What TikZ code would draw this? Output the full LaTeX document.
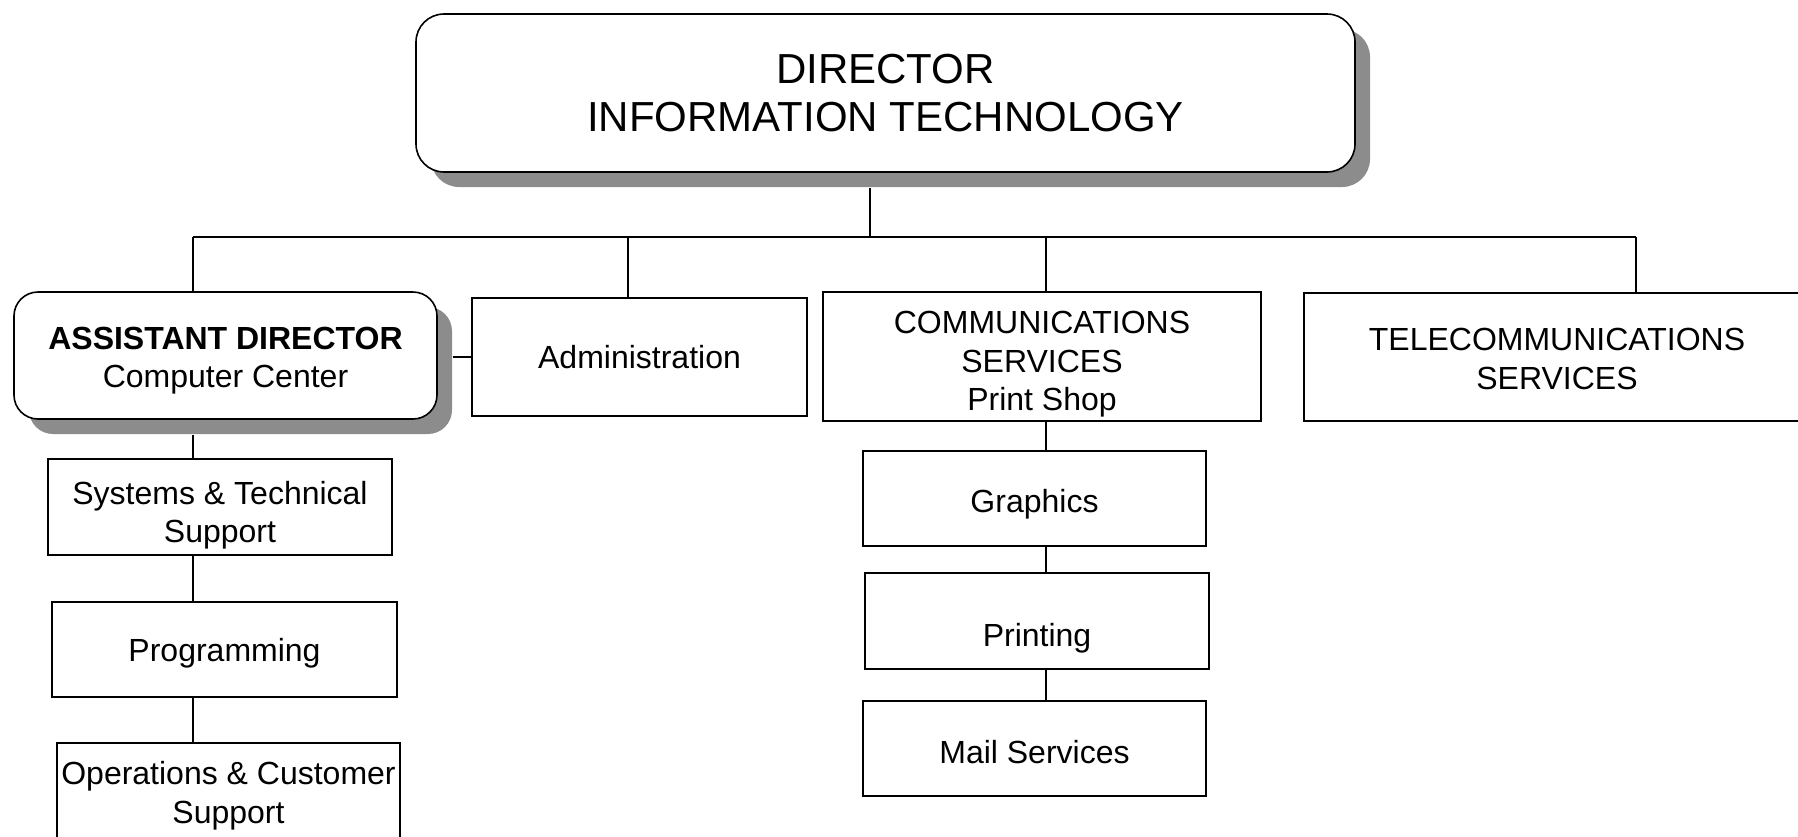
\documentclass[tikz,border=0pt]{standalone}
\usepackage{fontspec}
\setmainfont{Liberation Sans}
\usetikzlibrary{shadows}

\newcommand{\cale}[1]{\rule{0pt}{#1}}

\begin{document}
\begin{tikzpicture}[x=0.5pt, y=-0.5pt,
  boite/.style={draw, fill=white, line width=0.8pt, align=center, inner sep=0pt,
    font=\fontsize{16}{19.2}\selectfont},
  ombre/.style={boite, drop shadow={shadow xshift=7.5pt, shadow yshift=-7.5pt,
    fill=black!45, opacity=1}},
  trait/.style={line width=0.8pt}]

% Cadre
\clip (0,0) rectangle (1798,836);

% Le directeur
\node[ombre, rounded corners=14pt, minimum width=469.5pt, minimum height=79pt,
  font=\fontsize{21}{24}\selectfont] (dir) at (885.5,93) {DIRECTOR\\INFORMATION TECHNOLOGY};

% Premier niveau
\node[ombre, rounded corners=12pt, minimum width=211.5pt, minimum height=63.5pt] (asst) at (225.5,355.5)
  {\cale{16.1pt}\textbf{ASSISTANT DIRECTOR}\\Computer Center};
\node[boite, minimum width=167.5pt, minimum height=59pt] (admin) at (639.5,357) {Administration};
\node[boite, minimum width=219pt, minimum height=64.5pt] (comm) at (1042,356.5)
  {\cale{18.9pt}COMMUNICATIONS\\SERVICES\\Print Shop};
\node[boite, minimum width=253pt, minimum height=64pt] (tele) at (1557,357) {\cale{13.3pt}TELECOMMUNICATIONS\\SERVICES};

% Centre de calcul
\node[boite, minimum width=172pt, minimum height=48pt] (sys) at (220,507) {\cale{19.7pt}Systems \& Technical\\Support};
\node[boite, minimum width=172.5pt, minimum height=47.5pt] (prog) at (224.5,649.5) {\cale{15.1pt}Programming};
\node[boite, minimum width=171.5pt, minimum height=48pt] (ops) at (228.5,791) {\cale{16.3pt}Operations \& Customer\\Support};

% Imprimerie
\node[boite, minimum width=171.5pt, minimum height=47.5pt] (graph) at (1034.5,498.5) {\cale{17.5pt}Graphics};
\node[boite, minimum width=172pt, minimum height=48pt] (print) at (1037,621) {\cale{29pt}Printing};
\node[boite, minimum width=171.5pt, minimum height=47.5pt] (mail) at (1034.5,748.5) {\cale{15.1pt}Mail Services};

% Les liaisons
\coordinate (bus) at (870,237);
\coordinate (b1) at (193,237);
\coordinate (b2) at (628,237);
\coordinate (b3) at (1046,237);
\coordinate (b4) at (1636,237);
\draw[trait] ([yshift=-7.5pt]dir.south -| bus) -- (bus);
\draw[trait] (b1) -- (b4);
\draw[trait] (b1) -- (b1 |- asst.north);
\draw[trait] (b2) -- (b2 |- admin.north);
\draw[trait] (b3) -- (b3 |- comm.north);
\draw[trait] (b4) -- (b4 |- tele.north);
\draw[trait] ([xshift=7.5pt]asst.east |- admin.west) -- (admin.west);

\draw[trait] ([yshift=-7.5pt]asst.south -| b1) -- (sys.north -| b1);
\draw[trait] (sys.south -| b1) -- (prog.north -| b1);
\draw[trait] (prog.south -| b1) -- (ops.north -| b1);

\draw[trait] (comm.south -| b3) -- (graph.north -| b3);
\draw[trait] (graph.south -| b3) -- (print.north -| b3);
\draw[trait] (print.south -| b3) -- (mail.north -| b3);

\end{tikzpicture}
\end{document}
